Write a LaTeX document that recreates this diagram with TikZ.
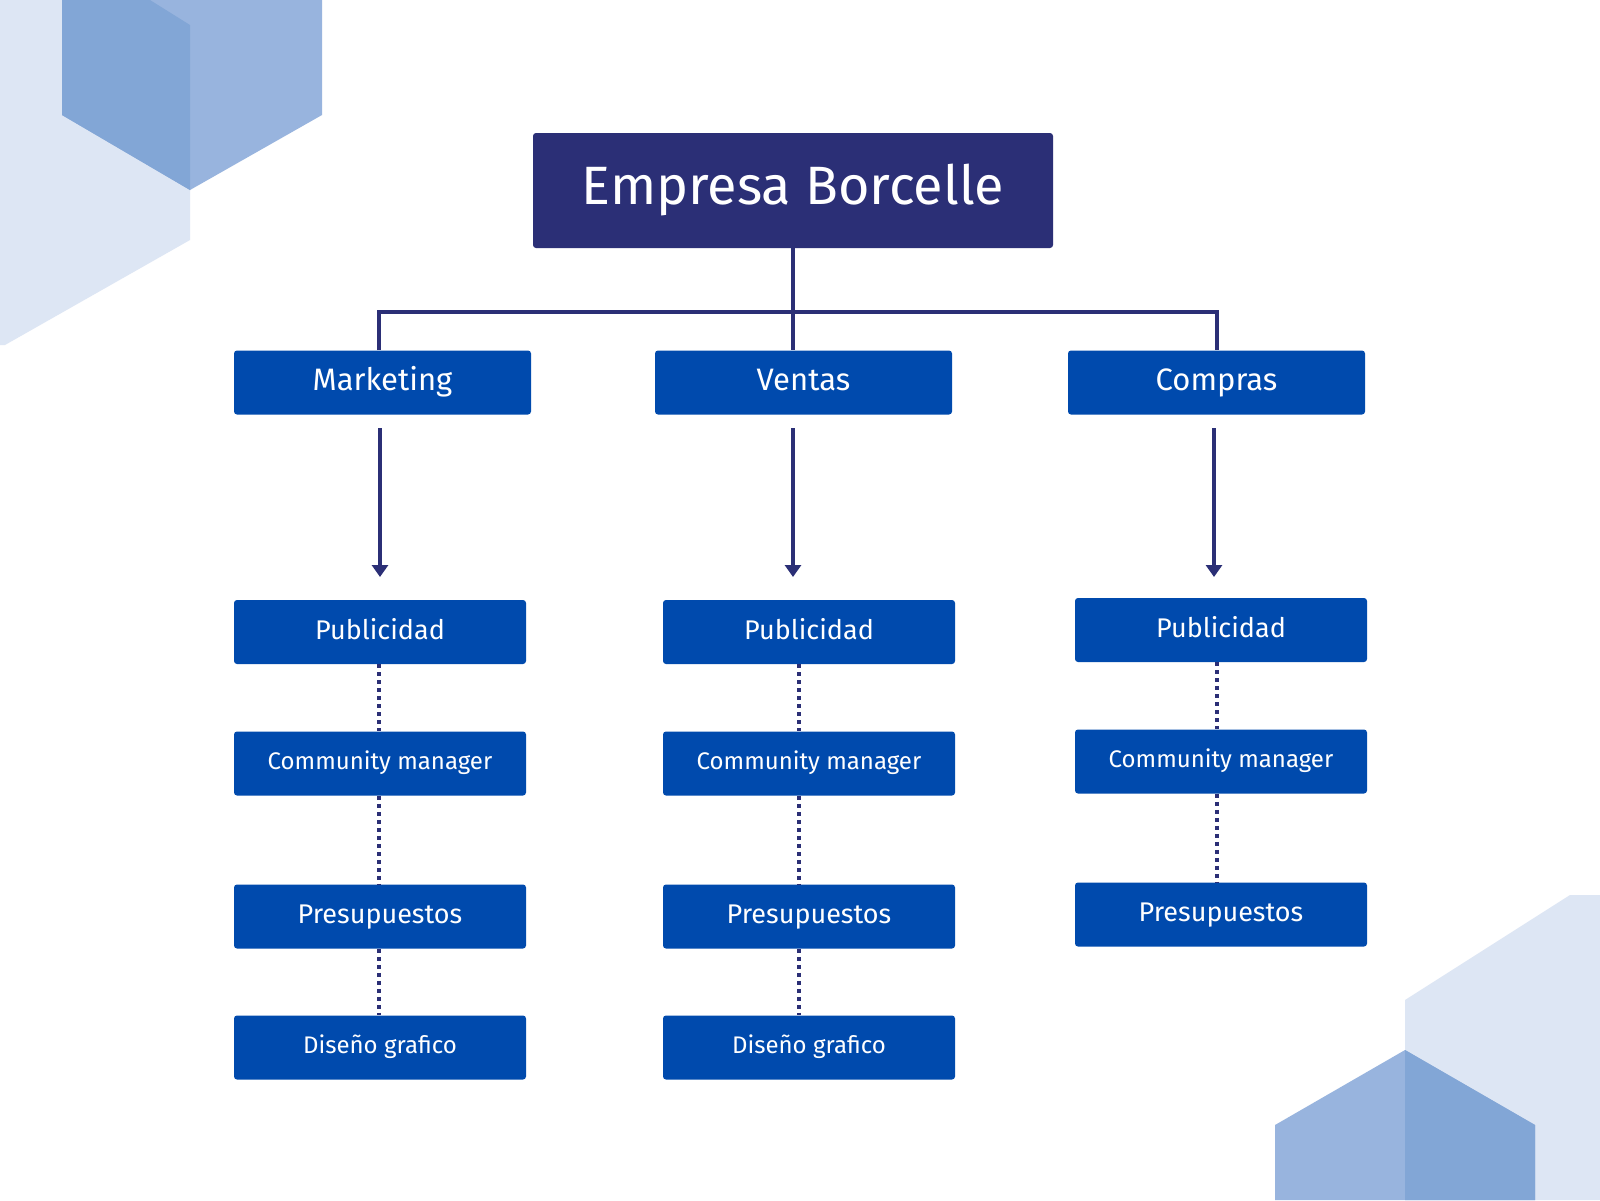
\documentclass[tikz,border=0pt]{standalone}
\usepackage{fontspec}
\setmainfont{Fira Sans}
\usetikzlibrary{arrows.meta}
\definecolor{navy}{HTML}{2B2F76}
\definecolor{bx}{HTML}{004AAD}
\definecolor{hl}{HTML}{DDE6F4}
\definecolor{hm}{HTML}{98B4DE}
\definecolor{hd}{HTML}{82A6D6}
\begin{document}
\begin{tikzpicture}[x=0.5pt,y=-0.5pt,
 box/.style={fill=bx,text=white,rounded corners=1.5pt,inner sep=0pt,minimum height=32pt},
 b2/.style={box,minimum width=148.5pt,font=\fontsize{15.5}{18}\selectfont,text height=11.5pt,text depth=3.5pt},
 b3/.style={box,minimum width=146pt,font=\fontsize{13.5}{16}\selectfont,text height=10pt,text depth=3pt},
 b3s/.style={b3,font=\fontsize{12}{14}\selectfont,text height=9pt,text depth=2.7pt},
 ln/.style={navy,line width=1.8pt},
 dt/.style={navy,line width=2pt,dash pattern=on 2pt off 2pt},
 ar/.style={ln,-{Triangle[length=6pt,width=8pt]}}]
\useasboundingbox (0,0) rectangle (1600,1200);
\fill[white] (0,0) rectangle (1600,1200);
% decorations
\fill[hl] (0,0)--(150,0)--(190,25)--(190,240)--(5,345)--(0,345)--cycle;
\fill[hm] (62,0)--(322,0)--(322,115)--(190,190)--(62,115)--cycle;
\fill[hd] (62,0)--(150,0)--(190,25)--(190,190)--(62,115)--cycle;
\fill[hl] (1405,1000)--(1570,895)--(1600,895)--(1600,1200)--(1405,1200)--cycle;
\fill[hm] (1275,1125)--(1405,1050)--(1535,1125)--(1535,1200)--(1275,1200)--cycle;
\fill[hd] (1405,1050)--(1535,1125)--(1535,1200)--(1405,1200)--cycle;
% nodes
\node[box,fill=navy,minimum width=260pt,minimum height=57.5pt,font=\fontsize{27}{32}\selectfont,text height=19.5pt,text depth=6pt] (top) at (793,190.5) {Empresa Borcelle};
\node[b2] (m) at (382.5,382.5) {Marketing};
\node[b2] (v) at (803.5,382.5) {Ventas};
\node[b2] (c) at (1216.5,382.5) {Compras};
\coordinate (ma) at (380,428); \coordinate (mb) at (380,577);
\coordinate (va) at (793,428); \coordinate (vb) at (793,577);
\coordinate (ca) at (1214,428); \coordinate (cb) at (1214,577);
\foreach \n/\x/\d in {1/380/0,2/809/0,3/1221/-2}{
 \node[b3] (p\n) at (\x,632+\d) {Publicidad};
 \node[b3s] (cm\n) at (\x,763.5+\d) {Community manager};
 \node[b3] (pr\n) at (\x,916.5+\d) {Presupuestos};
}
\node[b3s] (d1) at (380,1047.5) {Diseño grafico};
\node[b3s] (d2) at (809,1047.5) {Diseño grafico};
% connectors
\draw[ln] (top.south) -- (793,350);
\draw[ln] (m.north -| 379,0) -- (379,312) -- (1217,312) -- (c.north -| 1217,0);
\draw[ar] (ma) -- (mb);
\draw[ar] (va) -- (vb);
\draw[ar] (ca) -- (cb);
\foreach \x/\n in {379/1,799/2,1217/3}{
 \draw[dt] (p\n.south -| \x,0) -- (cm\n.north -| \x,0);
 \draw[dt] (cm\n.south -| \x,0) -- (pr\n.north -| \x,0);
}
\draw[dt] (pr1.south -| 379,0) -- (d1.north -| 379,0);
\draw[dt] (pr2.south -| 799,0) -- (d2.north -| 799,0);
\end{tikzpicture}
\end{document}
